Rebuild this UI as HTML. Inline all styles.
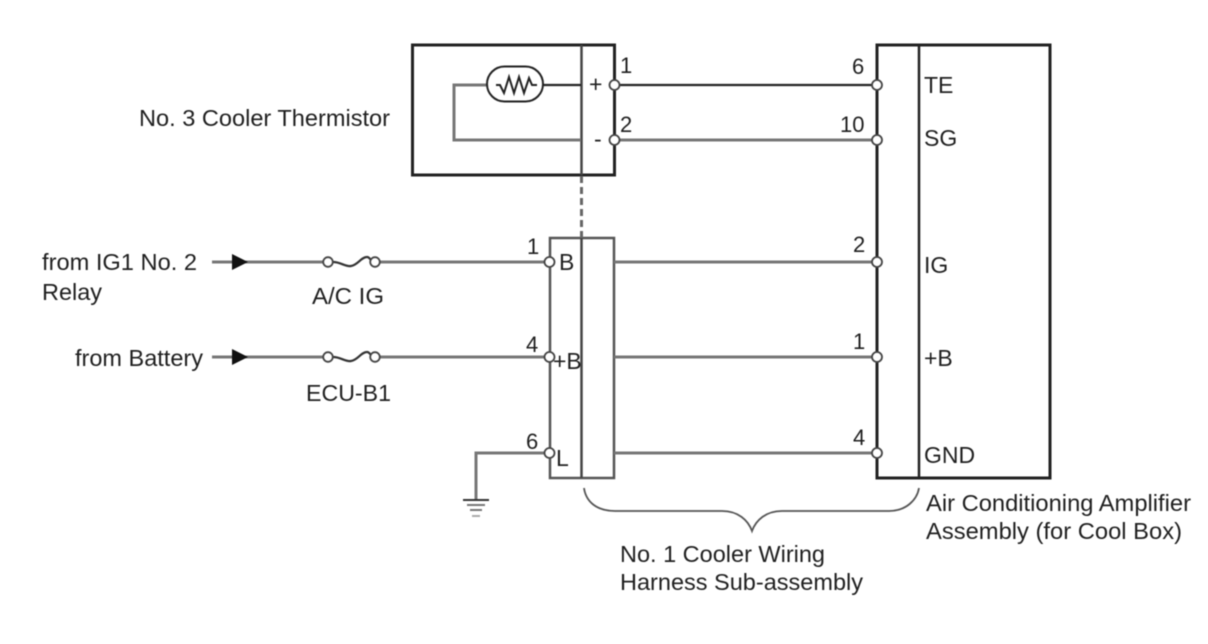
<!DOCTYPE html>
<html>
<head>
<meta charset="utf-8">
<style>
html,body{margin:0;padding:0;background:#fff;width:1208px;height:644px;overflow:hidden}
svg{display:block;filter:blur(0.5px)}
text{font-family:"Liberation Sans",sans-serif;font-size:23px;fill:#1f1f1f}
.n{font-size:22px}
</style>
</head>
<body>
<svg width="1208" height="644" viewBox="0 0 1208 644" xmlns="http://www.w3.org/2000/svg">
<rect width="1208" height="644" fill="#fff"/>
<g fill="none" stroke="#222" stroke-width="3">
<rect x="412.500" y="45" width="202" height="130"/>
<rect x="877" y="45" width="173" height="433"/>
</g>
<g fill="none" stroke="#444" stroke-width="2.500">
<line x1="581.500" y1="45" x2="581.500" y2="175"/>
<line x1="919" y1="45" x2="919" y2="478" stroke="#222"/>
<rect x="550" y="238" width="64" height="240" stroke="#555"/>
<line x1="581.500" y1="238" x2="581.500" y2="478"/>
<line x1="581.500" y1="176" x2="581.500" y2="238" stroke="#666" stroke-width="3" stroke-dasharray="7 4"/>
</g>
<g fill="none" stroke="#222" stroke-width="2.200">
<line x1="615" y1="85" x2="877" y2="85"/>
<line x1="543" y1="85" x2="581" y2="85"/>
</g>
<g fill="none" stroke="#777" stroke-width="3">
<path d="M487 85H454V140H581"/>
<line x1="615" y1="140" x2="877" y2="140"/>
<line x1="614" y1="262" x2="877" y2="262"/>
<line x1="614" y1="357" x2="877" y2="357"/>
<line x1="614" y1="453" x2="877" y2="453"/>
<line x1="212" y1="262" x2="323" y2="262"/>
<line x1="380" y1="262" x2="544" y2="262"/>
<line x1="212" y1="357" x2="323" y2="357"/>
<line x1="380" y1="357" x2="544" y2="357"/>
<path d="M544 453H476V500"/>
</g>
<rect x="487" y="66.500" width="56" height="35" rx="17.500" fill="none" stroke="#222" stroke-width="2"/>
<polyline points="496,85 500,85 504,93 509,77 514,93 519,77 524,93 529,78 532,85 537,85" fill="none" stroke="#222" stroke-width="2"/>
<g fill="#111">
<polygon points="232,254 248,262 232,270"/>
<polygon points="232,349 248,357 232,365"/>
</g>
<g fill="none" stroke="#333" stroke-width="2.200">
<path d="M333 262C341 262 345 267 351 266C358 265 361 257 367 257C369 257 370 259 371 260"/>
<path d="M333 357C341 357 345 362 351 361C358 360 361 352 367 352C369 352 370 354 371 355"/>
</g>
<g fill="#fff" stroke="#444" stroke-width="1.800">
<circle cx="328" cy="262" r="4.800"/><circle cx="375" cy="262" r="4.800"/>
<circle cx="328" cy="357" r="4.800"/><circle cx="375" cy="357" r="4.800"/>
<circle cx="614.500" cy="85" r="5"/><circle cx="614.500" cy="140" r="5"/>
<circle cx="549.500" cy="262" r="5"/><circle cx="549.500" cy="357" r="5"/><circle cx="549.500" cy="453" r="5"/>
<circle cx="877" cy="85" r="5"/><circle cx="877" cy="140" r="5"/><circle cx="877" cy="262" r="5"/><circle cx="877" cy="357" r="5"/><circle cx="877" cy="453" r="5"/>
</g>
<g stroke-width="2">
<line x1="463" y1="500" x2="489" y2="500" stroke="#333"/>
<line x1="467" y1="505" x2="485" y2="505" stroke="#777"/>
<line x1="470" y1="510" x2="482" y2="510" stroke="#777"/>
<line x1="472" y1="516" x2="480" y2="516" stroke="#aaa"/>
</g>
<path d="M584 488C586 502 597 511 615 511H722C738 511 748 520 752 531C756 520 766 511 782 511H889C906 511 917 500 919 488" fill="none" stroke="#555" stroke-width="1.800"/>
<text x="139" y="126" textLength="251" lengthAdjust="spacingAndGlyphs">No. 3 Cooler Thermistor</text>
<text x="589" y="92">+</text>
<text x="594" y="147">-</text>
<text class="n" x="620" y="73">1</text>
<text class="n" x="620" y="132">2</text>
<text class="n" x="852" y="74">6</text>
<text class="n" x="840" y="132">10</text>
<text x="924" y="93">TE</text>
<text x="924" y="146">SG</text>
<text class="n" x="853" y="252">2</text>
<text x="924" y="273">IG</text>
<text class="n" x="853" y="349">1</text>
<text x="924" y="366">+B</text>
<text class="n" x="853" y="445">4</text>
<text x="924" y="463">GND</text>
<text class="n" x="527" y="254">1</text>
<text x="559" y="270">B</text>
<text class="n" x="526" y="352">4</text>
<text x="553" y="369">+B</text>
<text class="n" x="526" y="449">6</text>
<text x="556" y="466">L</text>
<text x="42" y="270" textLength="155" lengthAdjust="spacingAndGlyphs">from IG1 No. 2</text>
<text x="42" y="300" textLength="60" lengthAdjust="spacingAndGlyphs">Relay</text>
<text x="75" y="366" textLength="128" lengthAdjust="spacingAndGlyphs">from Battery</text>
<text x="312" y="304" textLength="72" lengthAdjust="spacingAndGlyphs">A/C IG</text>
<text x="306" y="401" textLength="85" lengthAdjust="spacingAndGlyphs">ECU-B1</text>
<text x="926" y="511" textLength="265" lengthAdjust="spacingAndGlyphs">Air Conditioning Amplifier</text>
<text x="926" y="539" textLength="256" lengthAdjust="spacingAndGlyphs">Assembly (for Cool Box)</text>
<text x="620" y="562" textLength="205" lengthAdjust="spacingAndGlyphs">No. 1 Cooler Wiring</text>
<text x="620" y="590" textLength="243" lengthAdjust="spacingAndGlyphs">Harness Sub-assembly</text>
</svg>
</body>
</html>
